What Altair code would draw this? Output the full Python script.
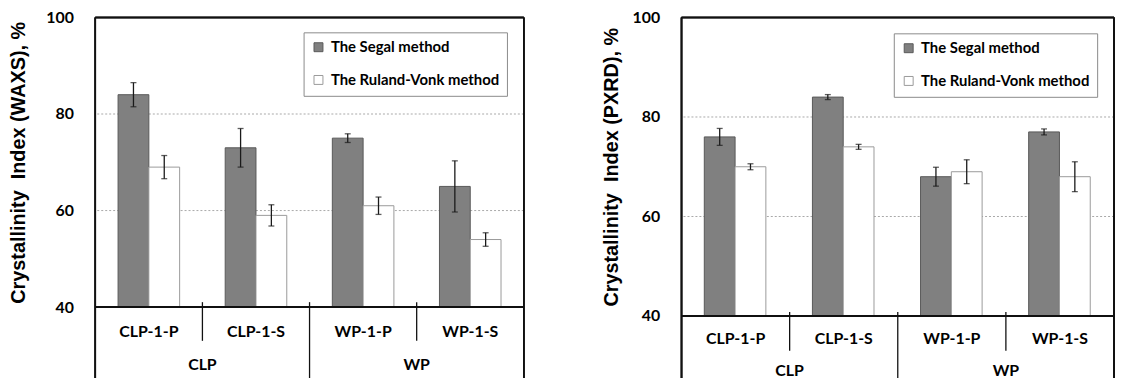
import altair as alt
import pandas as pd

# ---- data ----
categories = ["CLP-1-P", "CLP-1-S", "WP-1-P", "WP-1-S"]
groups = ["CLP", "CLP", "WP", "WP"]
methods = ["The Segal method", "The Ruland-Vonk method"]

waxs_segal = [84, 73, 75, 65]
waxs_segal_err = [2.5, 4.0, 0.9, 5.3]
waxs_rv = [69, 59, 61, 54]
waxs_rv_err = [2.4, 2.2, 1.8, 1.4]

pxrd_segal = [76, 84, 68, 77]
pxrd_segal_err = [1.7, 0.5, 1.9, 0.6]
pxrd_rv = [70, 74, 69, 68]
pxrd_rv_err = [0.6, 0.5, 2.4, 3.0]

y_ticks = [40, 60, 80, 100]
grid_values = [60, 80]

LABEL_FONT = "Lato"
TITLE_FONT = "Liberation Sans"


def panel(seg, seg_err, rv, rv_err, title, w, h, legx, legy, title_pad,
          cat_y, grp_y, sep_y1, sep_y2, bottom):
    df = pd.DataFrame({
        "cat": categories * 2,
        "method": [methods[0]] * 4 + [methods[1]] * 4,
        "value": seg + rv,
        "err": seg_err + rv_err,
    })
    df["lo"] = df["value"] - df["err"]
    df["hi"] = df["value"] + df["err"]

    xs = alt.Scale(domain=categories, paddingInner=0, paddingOuter=0)
    ys = alt.Scale(domain=[40, 100], nice=False, zero=False)
    offs = alt.Scale(domain=methods, paddingInner=0, paddingOuter=0.74)

    y_axis = alt.Axis(
        values=y_ticks, title=title, domain=False, ticks=False, grid=False,
        labelFont=LABEL_FONT, labelFontSize=16, labelFontWeight="bold",
        labelColor="black", labelPadding=22, labelFlush=False,
        titleFont=TITLE_FONT, titleFontSize=20, titleFontWeight="bold",
        titleColor="black", titlePadding=title_pad)

    legend = alt.Legend(
        title=None, orient="none", legendX=legx, legendY=legy,
        fillColor="white", strokeColor="#8a8a8a", padding=7.5,
        symbolType="square", symbolSize=81, symbolStrokeWidth=1,
        labelFont=LABEL_FONT, labelFontSize=15, labelFontWeight="bold",
        labelColor="black", rowPadding=17, labelOffset=5, cornerRadius=0,
        labelLimit=400,
    )

    base = alt.Chart(df)
    x_enc = alt.X("cat:N", scale=xs, axis=None, sort=categories)
    xo_enc = alt.XOffset("method:N", scale=offs, sort=methods)

    grid = alt.Chart(pd.DataFrame({"g": grid_values})).mark_rule(
        color="#a8a8a8", strokeDash=[2, 2], strokeWidth=1
    ).encode(y=alt.Y("g:Q", scale=ys, axis=y_axis))

    bars = base.mark_bar(strokeWidth=1).encode(
        x=x_enc,
        xOffset=xo_enc,
        y=alt.Y("value:Q", scale=ys, axis=y_axis),
        y2=alt.datum(40),
        fill=alt.Fill("method:N", scale=alt.Scale(domain=methods, range=["#808080", "#ffffff"]), legend=legend),
        stroke=alt.Stroke("method:N", scale=alt.Scale(domain=methods, range=["#585858", "#9a9a9a"]), legend=legend),
    )

    err = base.mark_rule(color="#1a1a1a", strokeWidth=1.3).encode(
        x=x_enc, xOffset=xo_enc,
        y=alt.Y("lo:Q", scale=ys, axis=y_axis), y2="hi:Q",
    )
    cap_lo = base.mark_tick(color="#1a1a1a", size=6, thickness=1.3).encode(
        x=x_enc, xOffset=xo_enc, y=alt.Y("lo:Q", scale=ys, axis=y_axis))
    cap_hi = base.mark_tick(color="#1a1a1a", size=6, thickness=1.3).encode(
        x=x_enc, xOffset=xo_enc, y=alt.Y("hi:Q", scale=ys, axis=y_axis))

    cat_df = pd.DataFrame({"cat": categories})
    cat_text = alt.Chart(cat_df).mark_text(
        font=LABEL_FONT, fontSize=16, fontWeight="bold", color="black", baseline="middle"
    ).encode(x=x_enc, y=alt.value(cat_y), text="cat:N")

    grp_df = pd.DataFrame({"cat": [categories[0], categories[2]], "grp": [groups[0], groups[2]]})
    grp_text = alt.Chart(grp_df).mark_text(
        font=LABEL_FONT, fontSize=16, fontWeight="bold", color="black", baseline="middle"
    ).encode(x=alt.X("cat:N", scale=xs, axis=None, bandPosition=1), y=alt.value(grp_y), text="grp:N")

    short_df = pd.DataFrame({"cat": [categories[1], categories[3]]})
    short_sep = alt.Chart(short_df).mark_rule(color="#111", strokeWidth=1.3).encode(
        x=alt.X("cat:N", scale=xs, axis=None, bandPosition=0),
        y=alt.value(sep_y1), y2=alt.value(sep_y2))
    long_df = pd.DataFrame({"cat": [categories[2]]})
    long_sep = alt.Chart(long_df).mark_rule(color="#111", strokeWidth=1.3).encode(
        x=alt.X("cat:N", scale=xs, axis=None, bandPosition=0),
        y=alt.value(sep_y1), y2=alt.value(bottom))

    left_ext = alt.Chart(cat_df).mark_rule(color="#111", strokeWidth=1.5).encode(
        x=alt.value(0), y=alt.value(0), y2=alt.value(bottom))
    right_ext = alt.Chart(cat_df).mark_rule(color="#111", strokeWidth=1.5).encode(
        x=alt.value(w), y=alt.value(0), y2=alt.value(bottom))
    bottom_line = alt.Chart(cat_df).mark_rule(color="#111", strokeWidth=1.5).encode(
        x=alt.value(0), x2=alt.value(w), y=alt.value(h))
    top_line = alt.Chart(cat_df).mark_rule(color="#111", strokeWidth=1.5).encode(
        x=alt.value(0), x2=alt.value(w), y=alt.value(0))

    return alt.layer(
        grid, bars, err, cap_lo, cap_hi, cat_text, grp_text,
        short_sep, long_sep, left_ext, right_ext, bottom_line, top_line,
    ).properties(width=w, height=h)


left = panel(waxs_segal, waxs_segal_err, waxs_rv, waxs_rv_err,
             "Crystallinity\u00a0 Index (WAXS), %",
             w=432, h=292, legx=210, legy=15, title_pad=18,
             cat_y=317, grp_y=350, sep_y1=287, sep_y2=326, bottom=370)
right = panel(pxrd_segal, pxrd_segal_err, pxrd_rv, pxrd_rv_err,
              "Crystallinity\u00a0 Index (PXRD), %",
              w=436, h=301, legx=214, legy=16, title_pad=11,
              cat_y=324, grp_y=356, sep_y1=297, sep_y2=336, bottom=370)

chart = alt.hconcat(left, right, spacing=77).resolve_scale(
    fill="independent", stroke="independent", x="independent", y="independent"
).resolve_legend(fill="independent", stroke="independent").properties(
    padding={"left": 0, "top": 0, "right": 0, "bottom": 0}
).configure_view(stroke=None)

chart.save("out.html", embed_options={"renderer": "svg", "actions": False})
